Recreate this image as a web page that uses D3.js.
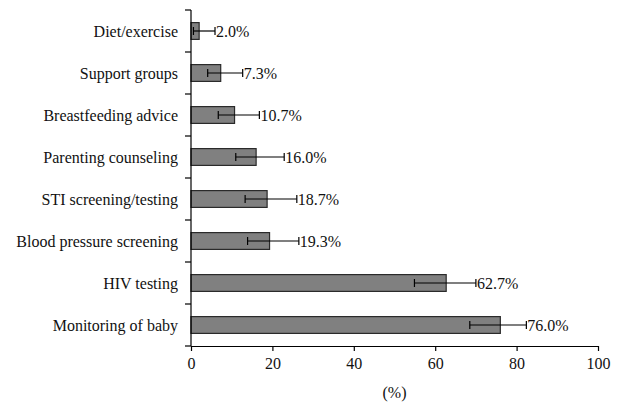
<!DOCTYPE html>
<html><head><meta charset="utf-8">
<script src="https://cdn.jsdelivr.net/npm/d3@7/dist/d3.min.js"></script>
<style>body{margin:0;background:#fff}svg{display:block}text{font-family:"Liberation Serif","DejaVu Serif",serif}</style>
</head><body>
<svg id="c" width="620" height="410"></svg>
<script>
const categories = ["Diet/exercise","Support groups","Breastfeeding advice","Parenting counseling","STI screening/testing","Blood pressure screening","HIV testing","Monitoring of baby"];
const values = [2.0, 7.3, 10.7, 16.0, 18.7, 19.3, 62.7, 76.0];
const lower = [0.6, 4.1, 6.7, 11.0, 13.3, 13.9, 54.9, 68.5];
const upper = [5.9, 12.7, 16.8, 22.9, 26.0, 26.5, 70.0, 82.4];
const labels = ["2.0%","7.3%","10.7%","16.0%","18.7%","19.3%","62.7%","76.0%"];
const xTicks = [0,20,40,60,80,100];

const svg = d3.select("#c");
const m = {left:191, right:22, top:10, bottom:64};
const W = 620, H = 410;
const FS = 16;
const x = d3.scaleLinear().domain([0,100]).range([m.left, W-m.right]);
const y = d3.scaleBand().domain(categories).range([m.top, H-m.bottom]).paddingInner(0.6).paddingOuter(0.3);

const data = categories.map((c,i)=>({c, v:values[i], lo:lower[i], hi:upper[i], l:labels[i]}));

svg.append("g").selectAll("rect").data(data).join("rect")
  .attr("x", x(0)).attr("y", d=>y(d.c)).attr("width", d=>x(d.v)-x(0)).attr("height", y.bandwidth())
  .attr("fill","#808080").attr("stroke","#2a2a2a").attr("stroke-width",1.2);

const eb = svg.append("g").attr("stroke","#000").attr("stroke-width",1.2);
data.forEach(d=>{
  const cy = y(d.c)+y.bandwidth()/2;
  eb.append("line").attr("x1",x(d.lo)).attr("x2",x(d.hi)).attr("y1",cy).attr("y2",cy);
  eb.append("line").attr("x1",x(d.lo)).attr("x2",x(d.lo)).attr("y1",cy-4).attr("y2",cy+4);
  eb.append("line").attr("x1",x(d.hi)).attr("x2",x(d.hi)).attr("y1",cy-4).attr("y2",cy+4);
});

svg.append("g").selectAll("text").data(data).join("text")
  .attr("x", d=>x(d.hi)+1).attr("y", d=>y(d.c)+y.bandwidth()/2).attr("dy","0.35em")
  .attr("font-size",FS).attr("fill","#111").text(d=>d.l);

// y axis with band boundary ticks
const yAxisG = svg.append("g");
yAxisG.append("line").attr("x1",x(0)).attr("x2",x(0)).attr("y1",m.top).attr("y2",H-m.bottom).attr("stroke","#000").attr("stroke-width",1.2);
const bounds = d3.range(categories.length+1).map(i=>m.top + i*(H-m.bottom-m.top)/categories.length);
yAxisG.selectAll("line.t").data(bounds).join("line").attr("class","t")
  .attr("x1",x(0)-6).attr("x2",x(0)).attr("y1",d=>d).attr("y2",d=>d).attr("stroke","#000").attr("stroke-width",1.2);
yAxisG.selectAll("text").data(categories).join("text")
  .attr("x", x(0)-13).attr("y", d=>y(d)+y.bandwidth()/2).attr("dy","0.35em")
  .attr("text-anchor","end").attr("font-size",FS).attr("fill","#111").text(d=>d);

const xAxis = svg.append("g").attr("transform",`translate(0,${H-m.bottom})`)
  .call(d3.axisBottom(x).tickValues(xTicks).tickSize(5).tickSizeOuter(0).tickPadding(7));
xAxis.select(".domain").attr("stroke","#000").attr("stroke-width",1.2);
xAxis.selectAll(".tick line").attr("stroke","#000").attr("stroke-width",1.2);
xAxis.selectAll("text").attr("font-size",FS).attr("fill","#111").attr("font-family","Liberation Serif, serif");

svg.append("text").attr("x",(x(0)+x(100))/2).attr("y",398).attr("text-anchor","middle").attr("font-size",FS).attr("fill","#111").text("(%)");
</script>
</body></html>
